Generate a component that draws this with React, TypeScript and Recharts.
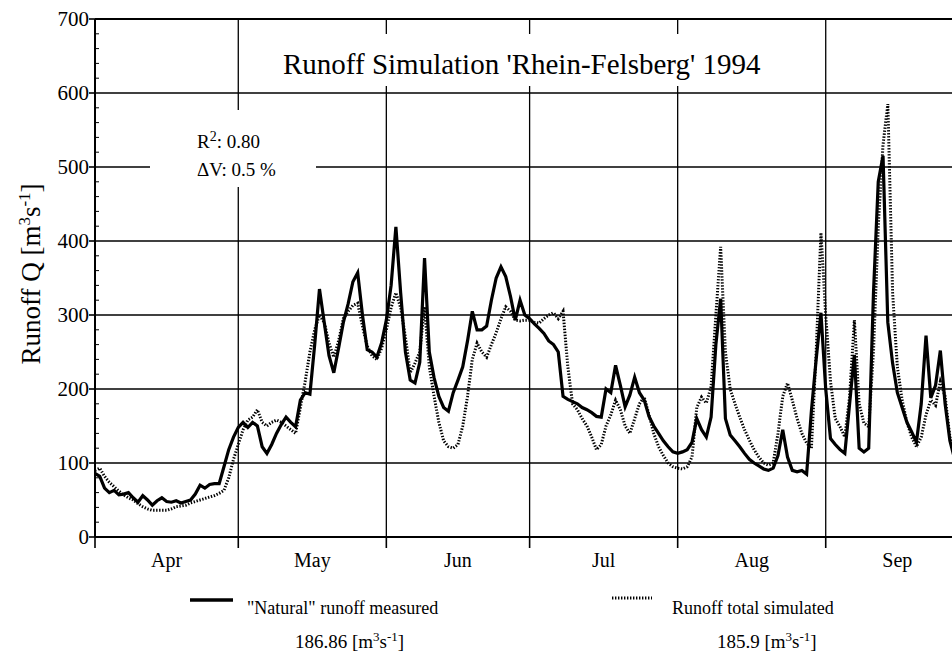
import React from "react";
import { LineChart, Line, XAxis, YAxis, ReferenceLine } from "recharts";

// Daily runoff, 1 Apr 1994 (day 0) onwards  [m3/s]
const measured: number[] = [
  86, 82, 66, 60, 63, 57, 58, 60, 53, 47,
  56, 50, 43, 49, 53, 48, 47, 49, 46, 48,
  50, 58, 70, 66, 71, 72, 72, 95, 118, 135,
  148, 155, 148, 155, 150, 122, 113, 125, 140, 152,
  162, 155, 149, 185, 195, 193, 260, 335, 290, 245,
  222, 255, 290, 315, 345, 357, 300, 253, 250, 243,
  262, 293, 340, 419, 330, 250, 212, 208, 236, 377,
  250, 215, 190, 175, 170, 195, 212, 230, 265, 305,
  280, 280, 285, 320, 350, 365, 352, 325, 293, 320,
  300, 295, 288, 282, 275, 265, 260, 250, 190, 186,
  183, 180, 175, 172, 168, 163, 162, 200, 195, 232,
  205, 176, 192, 216, 195, 185, 163, 150, 140, 130,
  122, 115, 113, 115, 118, 128, 160, 145, 135, 162,
  260, 322, 160, 138, 130, 122, 113, 105, 100, 96,
  92, 90, 93, 110, 145, 108, 90, 88, 90, 85,
  170, 240, 303, 200, 133, 125, 118, 113, 180, 246,
  120, 115, 120, 330, 480, 515, 290, 235, 195, 175,
  155, 142, 128, 180, 272, 188, 205, 252, 180, 130,
  105, 100,
];

const simulated: number[] = [
  90, 93, 82, 74, 68, 62, 57, 53, 50, 45,
  41, 38, 36, 36, 36, 36, 38, 41, 42, 43,
  46, 48, 50, 52, 54, 56, 59, 63, 80, 105,
  125, 145, 158, 162, 172, 155, 150, 155, 158, 155,
  150, 145, 140, 175, 210, 250, 280, 300, 290, 262,
  243, 265, 295, 305, 313, 316, 285, 258, 245, 240,
  255, 280, 310, 330, 310, 270, 222, 235, 250, 311,
  230, 190, 155, 130, 122, 120, 125, 150, 190, 240,
  262, 250, 243, 260, 276, 295, 311, 305, 293, 292,
  293, 293, 290, 289, 295, 300, 303, 295, 305, 230,
  180, 172, 160, 150, 135, 118, 125, 150, 165, 185,
  172, 150, 140, 160, 180, 189, 165, 140, 122, 110,
  100, 95, 93, 92, 95, 108, 175, 189, 181, 203,
  300, 392, 250, 200, 180, 162, 145, 131, 118, 108,
  100, 97, 100, 140, 190, 208, 185, 160, 140, 127,
  120, 250, 411, 300, 210, 160, 149, 135, 190, 293,
  180, 154, 149, 250, 420, 530, 585, 330, 230, 185,
  155, 135, 122, 135, 165, 185, 178, 210, 190, 135,
  118, 110,
];

const days: number[] = measured.map((_, i) => i);

const monthNames: string[] = ["Apr", "May", "Jun", "Jul", "Aug", "Sep"];
const monthStarts: number[] = [0, 30, 61, 91, 122, 153, 183];
const monthMids: number[] = [15, 45.5, 76, 106.5, 137.5, 168];

const yMajor: number[] = [0, 100, 200, 300, 400, 500, 600, 700];
const yAllTicks: number[] = Array.from({ length: 36 }, (_, i) => i * 20);

const data = days.map((d, i) => ({
  day: d,
  measured: measured[i],
  simulated: simulated[i],
}));

const FONT = '"Liberation Serif", Tinos, "Times New Roman", Times, "DejaVu Serif", serif';
const TS: React.CSSProperties = { fontFamily: FONT };

const YTick = (props: any) => {
  const { x, y, payload } = props;
  const v = payload.value;
  if (v % 100 === 0) {
    return (
      <g>
        <line x1={x - 6} x2={x} y1={y} y2={y} stroke="#000" strokeWidth={1.6} />
        <text x={x - 6} y={y} dy={7} textAnchor="end" fontSize={21} style={TS} fill="#000">
          {v}
        </text>
      </g>
    );
  }
  return <line x1={x} x2={x + 4} y1={y} y2={y} stroke="#000" strokeWidth={1} />;
};

const XTick = (props: any) => {
  const { x, y, payload } = props;
  const v = payload.value;
  const mi = monthNames.length > 0 ? monthMids.indexOf(v) : -1;
  if (mi >= 0) {
    return (
      <text x={x} y={y + 30} textAnchor="middle" fontSize={20} style={TS} fill="#000">
        {monthNames[mi]}
      </text>
    );
  }
  return <line x1={x} x2={x} y1={y} y2={y + 11} stroke="#000" strokeWidth={1.6} />;
};

const xTicks = [...monthStarts, ...monthMids].sort((a, b) => a - b);

export default function App() {
  return (
    <div
      style={{
        position: "fixed",
        left: 0,
        top: 0,
        width: 952,
        height: 655,
        overflow: "hidden",
        background: "#fff",
        fontFamily: FONT,
      }}
    >
      <LineChart
        width={980}
        height={655}
        data={data}
        margin={{ top: 19, right: 11, bottom: 88, left: 35 }}
      >
        {yMajor.slice(1).map((v) => (
          <ReferenceLine key={"h" + v} y={v} stroke="#000" strokeWidth={v === 700 ? 2 : 1.7} />
        ))}
        {monthStarts.slice(1, 6).map((d) => (
          <ReferenceLine key={"v" + d} x={d} stroke="#000" strokeWidth={1.3} />
        ))}
        <XAxis
          dataKey="day"
          type="number"
          domain={[0, 183]}
          ticks={xTicks}
          interval={0}
          tick={<XTick />}
          tickLine={false}
          tickSize={0}
          tickMargin={0}
          height={30}
          axisLine={{ stroke: "#000", strokeWidth: 2 }}
        />
        <YAxis
          type="number"
          domain={[0, 700]}
          ticks={yAllTicks}
          interval={0}
          tick={<YTick />}
          tickLine={false}
          tickSize={0}
          tickMargin={0}
          width={60}
          axisLine={{ stroke: "#000", strokeWidth: 2 }}
        />
        <Line
          dataKey="simulated"
          type="linear"
          stroke="#000"
          strokeWidth={3}
          strokeDasharray="1.4 1.6"
          dot={false}
          isAnimationActive={false}
        />
        <Line
          dataKey="measured"
          type="linear"
          stroke="#000"
          strokeWidth={3.2}
          dot={false}
          isAnimationActive={false}
        />
      </LineChart>
      <svg
        width={952}
        height={655}
        style={{ position: "absolute", left: 0, top: 0, pointerEvents: "none", fontFamily: FONT }}
      >
        <rect x={265} y={34} width={520} height={52} fill="#fff" />
        <text x={283} y={74} fontSize={29} style={TS} fill="#000">
          Runoff Simulation 'Rhein-Felsberg' 1994
        </text>
        <rect x={150} y={110} width={166} height={77} fill="#fff" />
        <text x={197} y={148} fontSize={19} style={TS} fill="#000">
          R<tspan dy={-7} fontSize={14}>2</tspan>
          <tspan dy={7}>:  0.80</tspan>
        </text>
        <text x={197} y={176} fontSize={19} style={TS} fill="#000">
          ΔV:  0.5 %
        </text>
        <text
          transform="translate(40,274) rotate(-90)"
          textAnchor="middle"
          fontSize={27}
          style={TS}
          fill="#000"
        >
          Runoff Q [m<tspan dy={-10} fontSize={17}>3</tspan>
          <tspan dy={10}>s</tspan>
          <tspan dy={-10} fontSize={17}>-1</tspan>
          <tspan dy={10}>]</tspan>
        </text>
        <line x1={190} x2={233} y1={600} y2={600} stroke="#000" strokeWidth={3.5} />
        <text x={247} y={614} fontSize={18} style={TS} fill="#000">
          "Natural" runoff measured
        </text>
        <text x={295} y={648} fontSize={19} style={TS} fill="#000">
          186.86 [m<tspan dy={-7} fontSize={13}>3</tspan>
          <tspan dy={7}>s</tspan>
          <tspan dy={-7} fontSize={13}>-1</tspan>
          <tspan dy={7}>]</tspan>
        </text>
        <line x1={612} x2={652} y1={598} y2={598} stroke="#000" strokeWidth={3} strokeDasharray="1.4 1.6" />
        <text x={672} y={614} fontSize={18} style={TS} fill="#000">
          Runoff total simulated
        </text>
        <text x={717} y={648} fontSize={19} style={TS} fill="#000">
          185.9 [m<tspan dy={-7} fontSize={13}>3</tspan>
          <tspan dy={7}>s</tspan>
          <tspan dy={-7} fontSize={13}>-1</tspan>
          <tspan dy={7}>]</tspan>
        </text>
      </svg>
    </div>
  );
}
